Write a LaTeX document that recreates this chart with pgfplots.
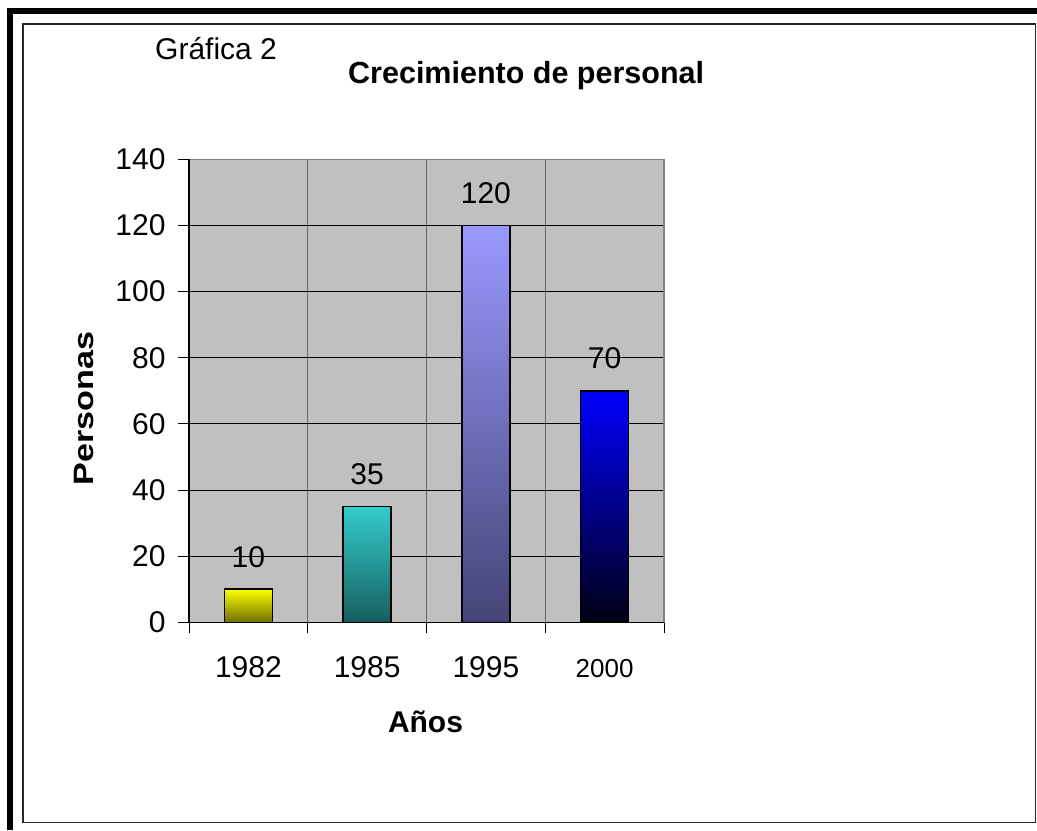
\documentclass[border=0pt]{standalone}
\usepackage{fontspec}
\setmainfont{Liberation Sans}
\usepackage{graphicx}
\usepackage{pgfplots}
\pgfplotsset{compat=1.18}
\definecolor{plotbg}{RGB}{192,192,192}
\definecolor{ytop}{RGB}{255,255,0}
\definecolor{ymid}{RGB}{225,225,0}
\definecolor{ybot}{RGB}{110,110,0}
\definecolor{ttop}{RGB}{51,204,204}
\definecolor{tmid}{RGB}{38,150,150}
\definecolor{tbot}{RGB}{22,95,95}
\definecolor{ptop}{RGB}{153,153,255}
\definecolor{pmid}{RGB}{118,118,195}
\definecolor{pbot}{RGB}{68,68,118}
\definecolor{btop}{RGB}{0,0,255}
\definecolor{bmid}{RGB}{0,0,190}
\definecolor{bbot}{RGB}{0,0,20}
\begin{document}
\begin{tikzpicture}[x=1bp,y=1bp]
\useasboundingbox (0,0) rectangle (1037,831);
\fill[white] (0,0) rectangle (1037,831);
\fill[black] (7,823) rectangle (1037,817);
\fill[black] (7,823) rectangle (13,1);
\draw[black!85, line width=1.5bp] (23,807) rectangle (1035.5,8.3);
\node[anchor=base west, inner sep=0pt] at (155,771) {\fontsize{30bp}{34bp}\selectfont Gráfica 2};
\node[anchor=base west, inner sep=0pt] at (348,747) {\fontsize{30.5bp}{34bp}\selectfont\bfseries Crecimiento de personal};
\begin{axis}[
  at={(189bp,208.7bp)}, anchor=south west,
  scale only axis, width=475bp, height=463bp,
  xmin=-0.5, xmax=3.5, ymin=0, ymax=140,
  ytick={0,20,...,140},
  xtick={-0.5,0.5,1.5,2.5,3.5}, xticklabels={},
  extra x ticks={0,1,2,3},
  extra x tick labels={1982,1985,1995,{\fontsize{26bp}{30bp}\selectfont 2000}},
  extra x tick style={major tick length=0pt, grid=none,
     xticklabel style={anchor=base, yshift=-55bp}},
  yticklabel style={xshift=-9bp},
  tick pos=left, tick align=outside, major tick length=11bp,
  tick style={black, line width=0.8bp},
  xmajorgrids, ymajorgrids,
  x grid style={draw=black!60, line width=0.9bp},
  y grid style={draw=black, line width=0.8bp},
  axis line style={draw=gray, line width=1.5bp},
  axis background/.style={fill=plotbg},
  ticklabel style={font=\fontsize{30bp}{36bp}\selectfont},
  /pgf/number format/assume math mode=true,
  ybar, bar width=48bp,
  nodes near coords,
  every node near coord/.append style={font=\fontsize{30bp}{36bp}\selectfont, anchor=base, yshift=22bp, black},
  clip=false,
]
\addplot[draw=black, line width=1.5bp, bar shift=0pt, top color=ytop, middle color=ymid, bottom color=ybot] coordinates {(0,10)};
\addplot[draw=black, line width=1.5bp, bar shift=0pt, top color=ttop, middle color=tmid, bottom color=tbot] coordinates {(1,35)};
\addplot[draw=black, line width=1.5bp, bar shift=0pt, top color=ptop, middle color=pmid, bottom color=pbot] coordinates {(2,120)};
\addplot[draw=black, line width=1.5bp, bar shift=0pt, top color=btop, middle color=bmid, bottom color=bbot] coordinates {(3,70)};
\draw[black, line width=1.5bp] (axis cs:-0.5,140) -- (axis cs:-0.5,0) -- (axis cs:3.5,0);
\end{axis}
\node[anchor=base, inner sep=0pt] at (425.5,98) {\fontsize{30bp}{36bp}\selectfont\bfseries Años};
\node[anchor=base, inner sep=0pt, rotate=90] at (93,422.7) {\fontsize{28bp}{32bp}\selectfont\bfseries\scalebox{1.22}[1]{Personas}};
\end{tikzpicture}
\end{document}
